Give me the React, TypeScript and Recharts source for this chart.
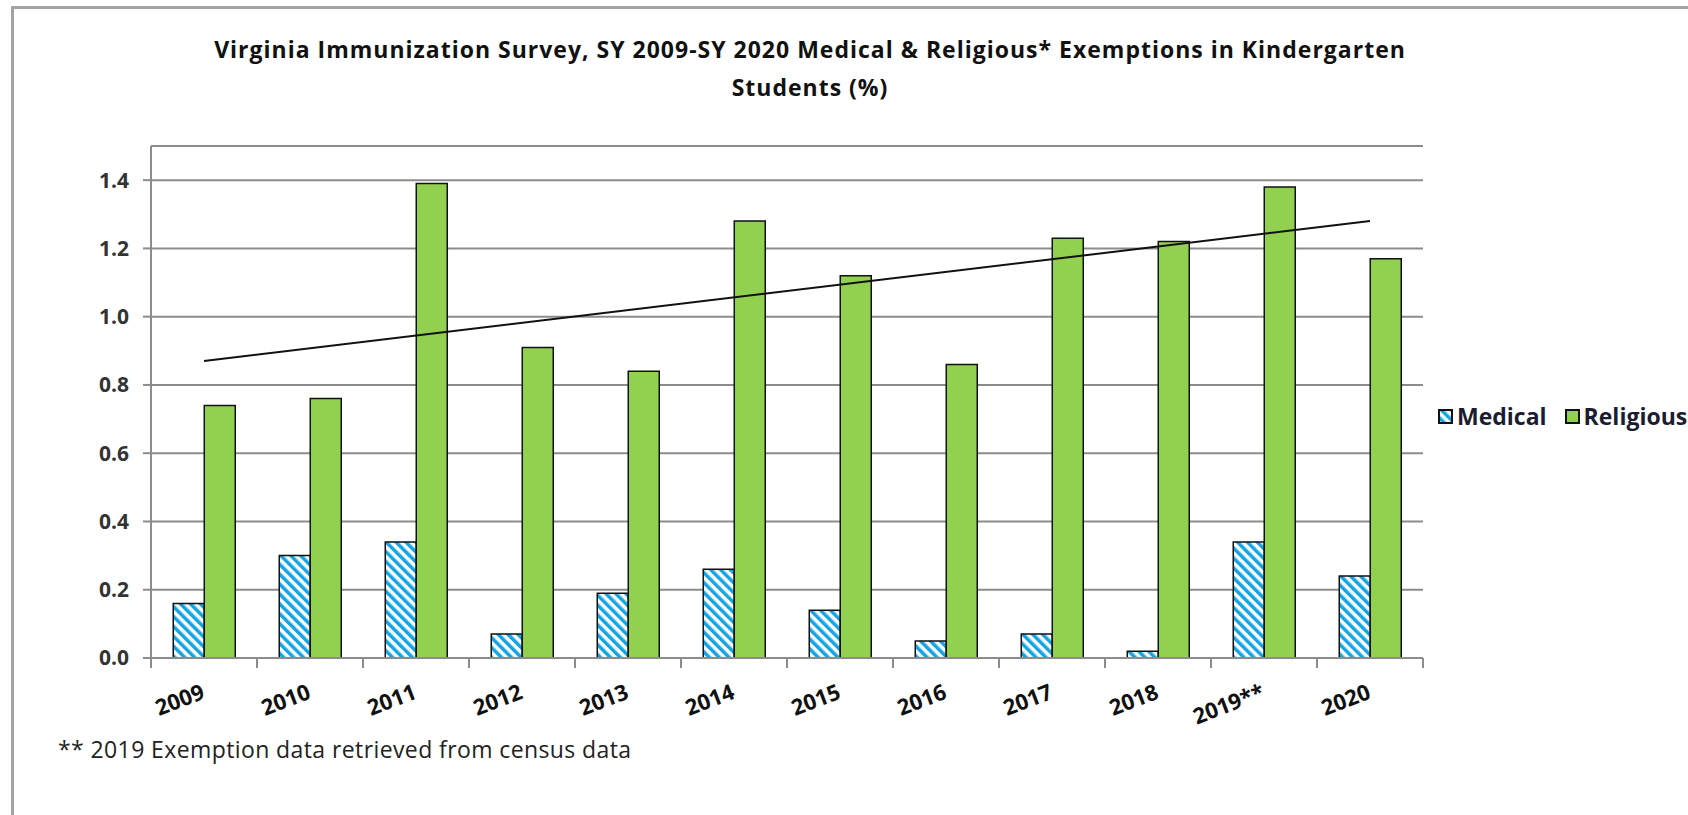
import { ComposedChart, Bar, Line, XAxis, YAxis, CartesianGrid, Legend } from 'recharts';

const years = ['2009', '2010', '2011', '2012', '2013', '2014', '2015', '2016', '2017', '2018', '2019**', '2020'];
const medical = [0.16, 0.3, 0.34, 0.07, 0.19, 0.26, 0.14, 0.05, 0.07, 0.02, 0.34, 0.24];
const religious = [0.74, 0.76, 1.39, 0.91, 0.84, 1.28, 1.12, 0.86, 1.23, 1.22, 1.38, 1.17];
// trend line end points
const trend = [0.87, null, null, null, null, null, null, null, null, null, null, 1.28];
const yTicks = [0, 0.2, 0.4, 0.6, 0.8, 1.0, 1.2, 1.4];

const data = years.map((year, i) => ({
  year,
  medical: medical[i],
  religious: religious[i],
  trend: trend[i],
}));

const FONT = '"Open Sans", sans-serif';
const GRID = '#8c8c8c';
const BLUE = '#13a4e3';
const GREEN = '#92d050';
const PLOT_W = 1272;
const BAND = PLOT_W / years.length;
const TICK = 10;

function YearTick(props: any) {
  const { x, y, payload, index } = props;
  const axisY = y - TICK;
  const last = index === years.length - 1;
  const tx = x + 2;
  const ty = axisY + 40;
  return (
    <g>
      <line x1={x - BAND / 2} x2={x - BAND / 2} y1={axisY} y2={axisY + TICK} stroke={GRID} strokeWidth={2} />
      {last && <line x1={x + BAND / 2} x2={x + BAND / 2} y1={axisY} y2={axisY + TICK} stroke={GRID} strokeWidth={2} />}
      <text
        x={tx}
        y={ty}
        textAnchor="end"
        transform={`rotate(-21 ${tx} ${ty})`}
        fontFamily={FONT}
        fontWeight={700}
        fontSize={22}
        fill="#111"
      >
        {payload.value}
      </text>
    </g>
  );
}

function LegendContent(props: any) {
  const items = (props.payload || []).filter((p: any) => p.type !== 'none');
  return (
    <div style={{ display: 'flex', alignItems: 'center', fontFamily: FONT, fontWeight: 700, fontSize: 23, color: '#1c1c30', whiteSpace: 'nowrap' }}>
      {items.map((p: any) => (
        <div key={p.value} style={{ display: 'flex', alignItems: 'center', marginRight: 18 }}>
          <svg width={15} height={15} style={{ marginRight: 4 }}>
            <rect x={1} y={1} width={13} height={13} fill={p.dataKey === 'medical' ? 'url(#medStripe)' : GREEN} stroke="#111" strokeWidth={2} />
          </svg>
          <span>{p.value}</span>
        </div>
      ))}
    </div>
  );
}

export default function App() {
  return (
    <div style={{ position: 'absolute', left: 0, top: 0, width: 1688, height: 815, overflow: 'hidden', background: '#fff' }}>
      <svg width={0} height={0} style={{ position: 'absolute' }}>
        <defs>
          <pattern id="medStripe" patternUnits="userSpaceOnUse" width={7} height={7} patternTransform="rotate(-45)">
            <rect x={0} y={0} width={7} height={7} fill="#fff" />
            <rect x={0} y={0} width={3.5} height={7} fill={BLUE} />
          </pattern>
        </defs>
      </svg>
      <div
        style={{
          position: 'absolute',
          left: 11,
          top: 6,
          width: 1720,
          height: 840,
          borderLeft: '3px solid #a3a3a3',
          borderTop: '3px solid #a3a3a3',
        }}
      />
      <div
        style={{
          position: 'absolute',
          left: 0,
          top: 30,
          width: 1620,
          textAlign: 'center',
          fontFamily: FONT,
          fontWeight: 700,
          fontSize: 23,
          letterSpacing: 1,
          lineHeight: '38px',
          color: '#111',
        }}
      >
        Virginia Immunization Survey, SY 2009-SY 2020 Medical &amp; Religious* Exemptions in Kindergarten
        <br />
        Students (%)
      </div>
      <div style={{ position: 'absolute' }}>
        <ComposedChart
          width={1688}
          height={815}
          data={data}
          margin={{ top: 146, right: 265, bottom: 97, left: 91 }}
          barCategoryGap="21%"
          barGap={0}
        >
          <CartesianGrid vertical={false} stroke={GRID} strokeWidth={2} />
          <XAxis
            dataKey="year"
            height={60}
            interval={0}
            tickLine={false}
            tickSize={TICK}
            tickMargin={0}
            axisLine={{ stroke: GRID, strokeWidth: 2 }}
            tick={<YearTick />}
          />
          <YAxis
            width={60}
            domain={[0, 1.5]}
            ticks={yTicks}
            interval={0}
            tickSize={8}
            tickMargin={14}
            tickLine={{ stroke: GRID, strokeWidth: 2 }}
            axisLine={{ stroke: GRID, strokeWidth: 2 }}
            tickFormatter={(v: number) => v.toFixed(1)}
            tick={{ fontFamily: FONT, fontWeight: 700, fontSize: 21, fill: '#333' }}
          />
          <Legend
            layout="horizontal"
            align="center"
            verticalAlign="middle"
            content={<LegendContent />}
            wrapperStyle={{ left: 1438, top: 400, width: 320 }}
          />
          <Bar dataKey="medical" name="Medical" fill="url(#medStripe)" stroke="#111" strokeWidth={1.5} isAnimationActive={false} />
          <Bar dataKey="religious" name="Religious" fill={GREEN} stroke="#111" strokeWidth={1.5} isAnimationActive={false} />
          <Line
            dataKey="trend"
            type="linear"
            connectNulls
            stroke="#111"
            strokeWidth={2}
            dot={false}
            activeDot={false}
            legendType="none"
            isAnimationActive={false}
          />
        </ComposedChart>
      </div>
      <div
        style={{
          position: 'absolute',
          left: 58,
          top: 734,
          fontFamily: FONT,
          fontSize: 23,
          letterSpacing: 0.4,
          lineHeight: '30px',
          color: '#222',
          whiteSpace: 'nowrap',
        }}
      >
        ** 2019 Exemption data retrieved from census data
      </div>
    </div>
  );
}
